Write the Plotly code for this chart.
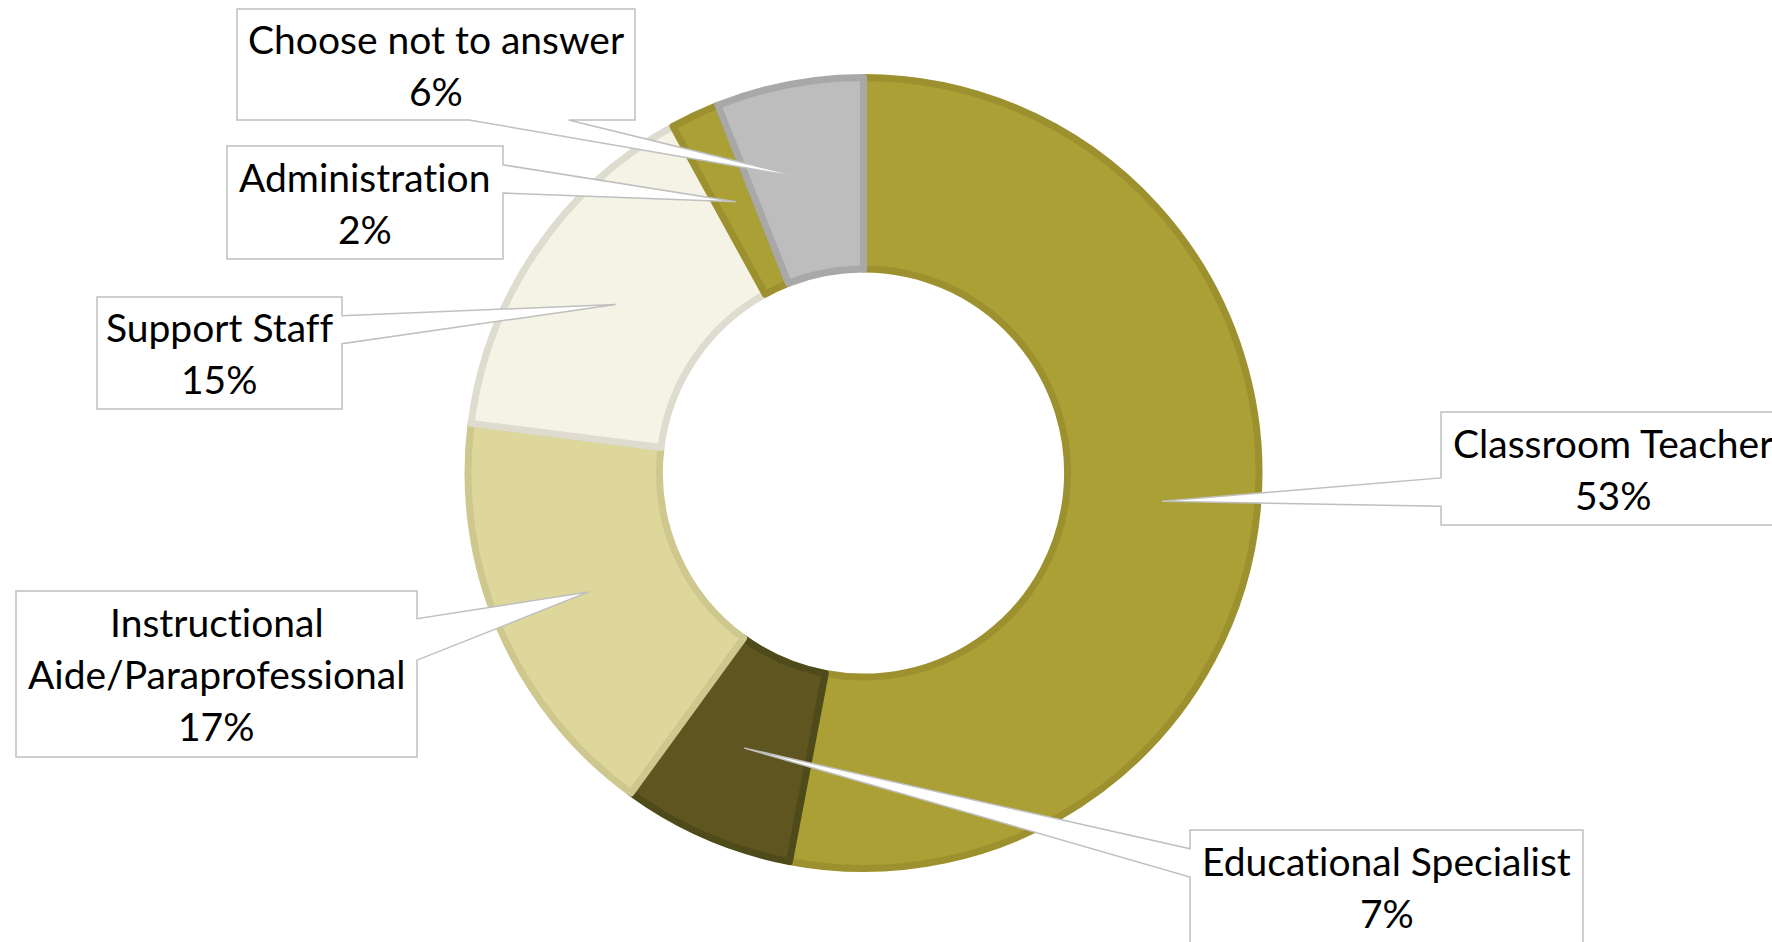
import math
import plotly.graph_objects as go

# Staff role breakdown (percent of respondents)
roles = [
    "Classroom Teacher",
    "Educational Specialist",
    "Instructional Aide/Paraprofessional",
    "Support Staff",
    "Administration",
    "Choose not to answer",
]
shares = [53, 7, 17, 15, 2, 6]

# Label text lines for each callout
label_lines = [
    ["Classroom Teacher"],
    ["Educational Specialist"],
    ["Instructional", "Aide/Paraprofessional"],
    ["Support Staff"],
    ["Administration"],
    ["Choose not to answer"],
]

fill_colors = ["#ABA035", "#5E5520", "#DED79B", "#F5F3E6", "#ABA035", "#BDBDBD"]
edge_colors = ["#9C912E", "#4F4A1A", "#CEC78E", "#DEDCCF", "#9C912E", "#A8A8A8"]

W, H = 1772, 942

# Donut placement (pixels, y measured from the top)
CX, CY = 863.5, 473.0
R_OUT = 395.5
HOLE = 0.516
EDGE_W = 7

# Callout boxes: (left, top, right, bottom) in pixels
boxes = [
    (1441, 412, 1785, 525),
    (1190, 830, 1583, 943),
    (16, 591, 417, 757),
    (97, 297, 342, 409),
    (227, 146, 503, 259),
    (237, 9, 635, 120),
]

LINE_GAP = 52
FONT = dict(family="Lato, Carlito, 'Open Sans', sans-serif", size=39, color="#000000")


def px(x, y):
    return x / W, 1 - y / H


def plain(text):
    # keep the glyphs separate (no "ti"/"ff" ligatures)
    return text.replace("ti", "t\u200ci").replace("ff", "f\u200cf")


def callout_path(box, tip):
    x0, y0, x1, y1 = box
    tx, ty = tip
    w, h = x1 - x0, y1 - y0
    hc, vc = (x0 + x1) / 2, (y0 + y1) / 2
    dxp, dyp = tx - hc, ty - vc
    dx, dy = dxp * h, dyp * w
    xg1, xg2 = (7, 10) if dxp > 0 else (2, 5)
    yg1, yg2 = (7, 10) if dyp > 0 else (2, 5)
    wx1, wx2 = x0 + w * xg1 / 12, x0 + w * xg2 / 12
    wy1, wy2 = y0 + h * yg1 / 12, y0 + h * yg2 / 12
    vertical = abs(dy) > abs(dx)
    pts = [(x0, y0)]
    if vertical and dyp < 0:
        pts += [(wx1, y0), (tx, ty), (wx2, y0)]
    pts.append((x1, y0))
    if not vertical and dxp > 0:
        pts += [(x1, wy1), (tx, ty), (x1, wy2)]
    pts.append((x1, y1))
    if vertical and dyp > 0:
        pts += [(wx2, y1), (tx, ty), (wx1, y1)]
    pts.append((x0, y1))
    if not vertical and dxp < 0:
        pts += [(x0, wy2), (tx, ty), (x0, wy1)]
    coords = [px(x, y) for x, y in pts]
    return "M " + " L ".join(f"{a:.5f},{b:.5f}" for a, b in coords) + " Z"


fig = go.Figure(
    go.Pie(
        labels=roles,
        values=shares,
        hole=HOLE,
        sort=False,
        direction="clockwise",
        rotation=0,
        textinfo="none",
        hoverinfo="label+percent",
        marker=dict(colors=fill_colors, line=dict(color=edge_colors, width=EDGE_W)),
        domain=dict(
            x=[(CX - R_OUT) / W, (CX + R_OUT) / W],
            y=[(H - CY - R_OUT) / H, (H - CY + R_OUT) / H],
        ),
        showlegend=False,
    )
)

# Callout pointers aim at the middle of each ring segment
total = sum(shares)
r_mid = R_OUT * (1 + HOLE) / 2
shapes, annotations = [], []
start = 0.0
for role_lines, share, box in zip(label_lines, shares, boxes):
    mid = (start + share / 2) / total * 2 * math.pi
    start += share
    tip = (CX + r_mid * math.sin(mid), CY - r_mid * math.cos(mid))
    shapes.append(
        dict(
            type="path",
            xref="paper",
            yref="paper",
            path=callout_path(box, tip),
            fillcolor="#FFFFFF",
            line=dict(color="#BFBFBF", width=1.5),
            layer="above",
        )
    )
    lines = role_lines + [f"{share}%"]
    bx = (box[0] + box[2]) / 2
    by = (box[1] + box[3]) / 2
    n = len(lines)
    for i, t in enumerate(lines):
        ly = by + (i - (n - 1) / 2) * LINE_GAP
        ax, ay = px(bx, ly)
        annotations.append(
            dict(
                text=plain(t),
                x=ax,
                y=ay,
                xref="paper",
                yref="paper",
                xanchor="center",
                yanchor="middle",
                showarrow=False,
                font=FONT,
            )
        )

fig.update_layout(
    width=W,
    height=H,
    margin=dict(l=0, r=0, t=0, b=0),
    paper_bgcolor="#FFFFFF",
    plot_bgcolor="#FFFFFF",
    shapes=shapes,
    annotations=annotations,
)

fig.write_html("out.html", config={"displayModeBar": False})
